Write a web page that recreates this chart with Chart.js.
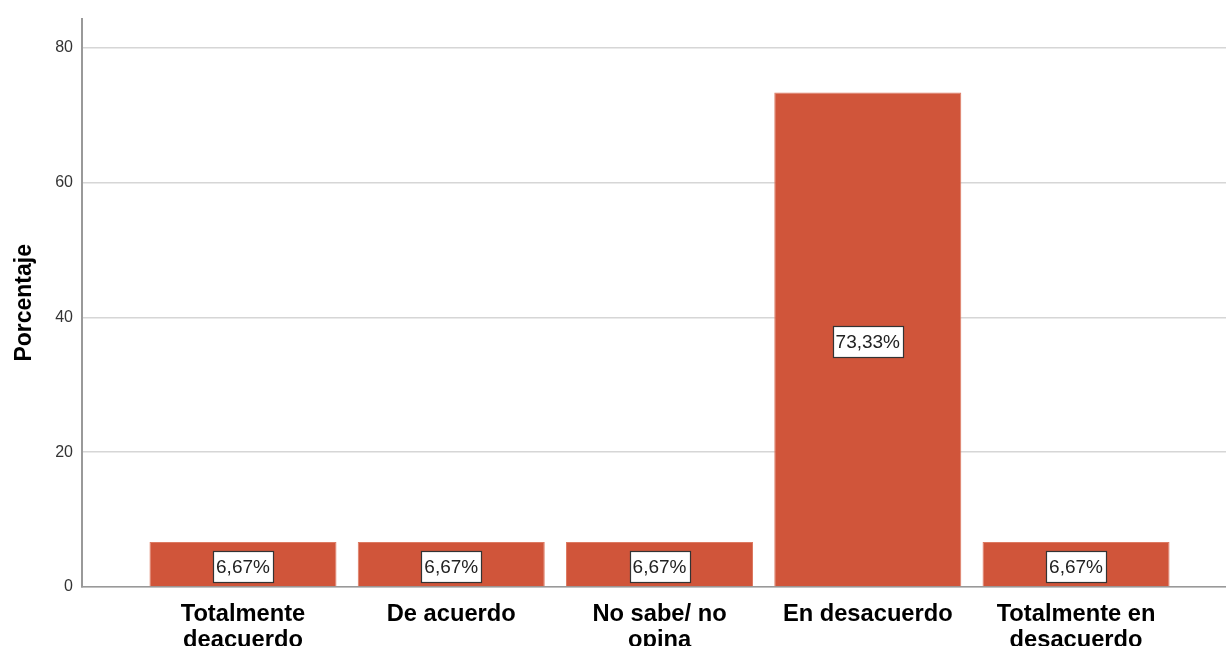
<!DOCTYPE html>
<html>
<head>
<meta charset="utf-8">
<script src="https://cdn.jsdelivr.net/npm/chart.js@4"></script>
<style>
  body { margin: 0; background: #fff; }
</style>
</head>
<body>
<canvas id="porcentajeChart" width="1226" height="646"></canvas>
<script>
const categories = [
    ['Totalmente', 'deacuerdo'],
    ['De acuerdo'],
    ['No sabe/ no', 'opina'],
    ['En desacuerdo'],
    ['Totalmente en', 'desacuerdo']
];
const porcentajes = [6.67, 6.67, 6.67, 73.33, 6.67];
const yTicks = [0, 20, 40, 60, 80];

const fontFamily = '"Liberation Sans", Arial, sans-serif';

// etiquetas con caja blanca en el centro de cada barra
const boxLabels = {
    id: 'boxLabels',
    afterDatasetsDraw(chart) {
        const ctx = chart.ctx;
        const meta = chart.getDatasetMeta(0);
        ctx.save();
        ctx.font = '19px ' + fontFamily;
        ctx.textAlign = 'center';
        ctx.textBaseline = 'middle';
        meta.data.forEach((bar, i) => {
            const txt = porcentajes[i].toFixed(2).replace('.', ',') + '%';
            const w = Math.round(ctx.measureText(txt).width + 6);
            const h = 31;
            const cy = (bar.y + bar.base) / 2 + 2.5;
            const x0 = Math.round(bar.x - w / 2) + 0.5;
            const y0 = Math.round(cy - h / 2) + 0.5;
            ctx.fillStyle = '#fff';
            ctx.fillRect(x0, y0, w, h);
            ctx.strokeStyle = '#333';
            ctx.lineWidth = 1.2;
            ctx.strokeRect(x0, y0, w, h);
            ctx.fillStyle = '#222';
            ctx.fillText(txt, bar.x, cy + 1);
        });
        ctx.restore();
    }
};

new Chart(document.getElementById('porcentajeChart'), {
    type: 'bar',
    data: {
        datasets: [{
            data: porcentajes.map((v, i) => ({ x: i, y: v })),
            backgroundColor: '#d0553a',
            borderColor: '#dd7a62',
            borderWidth: 1,
            categoryPercentage: 1,
            barPercentage: 0.898
        }]
    },
    options: {
        responsive: false,
        animation: false,
        layout: { padding: { top: 17, right: 0, left: 0, bottom: 0 } },
        plugins: {
            legend: { display: false },
            tooltip: { enabled: false }
        },
        scales: {
            x: {
                type: 'linear',
                min: -0.773,
                max: 4.72,
                offset: false,
                grid: { display: false, offset: false },
                border: { display: true, color: '#999', width: 1.5 },
                afterBuildTicks: (s) => { s.ticks = categories.map((c, i) => ({ value: i })); },
                afterFit: (s) => { s.height = 59; },
                ticks: {
                    autoSkip: false,
                    maxRotation: 0,
                    padding: 6,
                    color: '#000',
                    font: { family: fontFamily, size: 23.7, weight: 'bold', lineHeight: '26px' },
                    callback: (v) => categories[v]
                }
            },
            y: {
                min: 0,
                max: 84.3,
                afterBuildTicks: (s) => { s.ticks = yTicks.map(v => ({ value: v })); },
                afterFit: (s) => { s.width = 82; },
                grid: { color: '#d6d6d6', lineWidth: 1.5, drawTicks: false },
                border: { display: true, color: '#999', width: 2 },
                ticks: {
                    padding: 9,
                    color: '#333',
                    font: { family: fontFamily, size: 16 }
                },
                title: {
                    display: true,
                    text: 'Porcentaje',
                    color: '#000',
                    padding: { top: 11, bottom: 0 },
                    font: { family: fontFamily, size: 23, weight: 'bold' }
                }
            }
        }
    },
    plugins: [boxLabels]
});
</script>
</body>
</html>
